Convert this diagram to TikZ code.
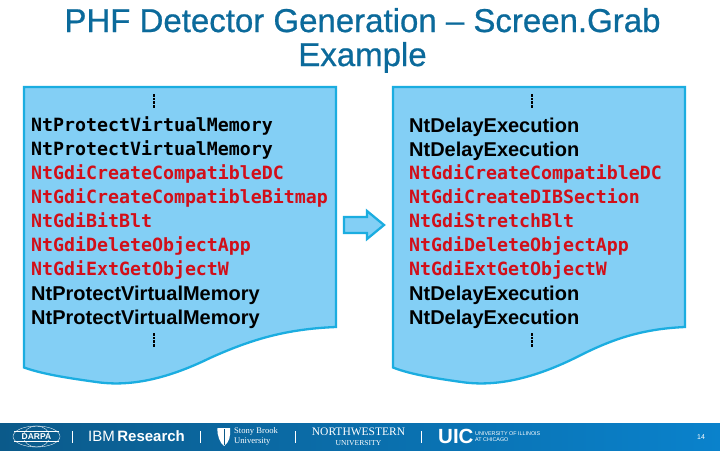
\documentclass[tikz,border=0pt]{standalone}
\usepackage{fontspec}
\setmainfont{Liberation Sans}
\newfontfamily\monob{DejaVu Sans Mono}[BoldFont={DejaVu Sans Mono Bold}]
\newfontfamily\serifl{Liberation Serif}
\newfontfamily\titlef[FakeBold=0.7]{Liberation Sans}
\usetikzlibrary{shapes.arrows,shapes.geometric,positioning}
\definecolor{titleblue}{HTML}{0B6A9B}
\definecolor{docfill}{HTML}{83CFF5}
\definecolor{docedge}{HTML}{1BADE0}
\definecolor{apired}{HTML}{D20F19}
\definecolor{barl}{HTML}{0B5A8A}
\definecolor{barr}{HTML}{0A82CC}
\tikzset{
  docshape/.style={fill=docfill,draw=docedge,line width=2.3pt,line join=miter},
  monoapi/.style={anchor=base west,inner sep=0pt,text=apired,font={\monob\bfseries\fontsize{18.25}{18.25}\selectfont}},
  monoblk/.style={monoapi,text=black},
  sansblk/.style={anchor=base west,inner sep=0pt,text=black,font={\bfseries\fontsize{20}{20}\selectfont}},
  titletext/.style={anchor=base,inner sep=0pt,text=titleblue,font={\titlef\fontsize{33}{33}\selectfont}},
  footw/.style={inner sep=0pt,text=white},
  sepline/.style={draw=white,line width=0.7pt},
  globe/.style={draw=white,line width=0.35pt}
}
\newcommand{\dotsat}[2]{%
  \foreach \k in {0,1,2,3}{\path[fill=black] (#1-1.4,#2+\k*3.7) rectangle ++(2.8,2.7);}}
\begin{document}
\begin{tikzpicture}[x=1pt,y=-1pt]
\useasboundingbox (0,0) rectangle (720,450);
\fill[white] (0,0) rectangle (720,450);
% title
\node[titletext] (t1) at (362.5,32) {PHF Detector Generation – Screen.Grab};
\node[titletext] (t2) at (362.5,66) {Example};
% left doc
\path[docshape] (24,87) -- (336,87) -- (336,327) .. controls (285,329) and (250,340) .. (210,358)
  .. controls (165,380) and (130,386) .. (100,382.5) .. controls (75,379) and (45,375) .. (24,367.5) -- cycle;
% right doc
\path[docshape] (393,87) -- (685,87) -- (685,327) .. controls (640,329) and (610,340) .. (575,358)
  .. controls (530,380) and (495,386) .. (465,382.5) .. controls (440,379) and (412,375) .. (393,367.5) -- cycle;
% arrow
\path[docshape] (344,217) -- (367,217) -- (367,211) -- (384,225) -- (367,239) -- (367,233) -- (344,233) -- cycle;
% texts left
\dotsat{154}{94}
\node[monoblk] (l1) at (31,131.5) {NtProtectVirtualMemory};
\node[monoblk] (l2) at (31,155.5) {NtProtectVirtualMemory};
\node[monoapi] (l3) at (31,179.5) {NtGdiCreateCompatibleDC};
\node[monoapi] (l4) at (31,203.5) {NtGdiCreateCompatibleBitmap};
\node[monoapi] (l5) at (31,227) {NtGdiBitBlt};
\node[monoapi] (l6) at (31,251) {NtGdiDeleteObjectApp};
\node[monoapi] (l7) at (31,275) {NtGdiExtGetObjectW};
\node[sansblk] (l8) at (31,300.5) {NtProtectVirtualMemory};
\node[sansblk] (l9) at (31,324.5) {NtProtectVirtualMemory};
\dotsat{154}{333}
% texts right
\dotsat{532}{94}
\node[sansblk] (r1) at (409,132.5) {NtDelayExecution};
\node[sansblk] (r2) at (409,156.5) {NtDelayExecution};
\node[monoapi] (r3) at (409,179.5) {NtGdiCreateCompatibleDC};
\node[monoapi] (r4) at (409,203.5) {NtGdiCreateDIBSection};
\node[monoapi] (r5) at (409,227) {NtGdiStretchBlt};
\node[monoapi] (r6) at (409,251) {NtGdiDeleteObjectApp};
\node[monoapi] (r7) at (409,275) {NtGdiExtGetObjectW};
\node[sansblk] (r8) at (409,300.5) {NtDelayExecution};
\node[sansblk] (r9) at (409,324.5) {NtDelayExecution};
\dotsat{532}{333}
% footer
\shade[left color=barl,right color=barr] (0,423) rectangle (720,450);
\path[globe] (36.5,436.5) ellipse (23.5 and 10.5);
\path[globe] (36.5,436.5) ellipse (13 and 10.5);
\path[globe] (14,431.5) -- (59,431.5) (14,441.5) -- (59,441.5);
\node[footw,fill=barl,inner sep=0.8pt,font=\bfseries\fontsize{8.5}{8.5}\selectfont] (darpa) at (36.5,436.5) {DARPA};
\path[sepline] (72,431) -- (72,443);
\node[footw,anchor=west,font=\fontsize{15}{15}\selectfont] (ibm) at (88,436.5) {IBM\,\textbf{Research}};
\path[sepline] (200,431) -- (200,443);
\path[fill=white] (217.5,428) -- (230,428) .. controls (231,436) and (229,443) .. (224,446) .. controls (220,443) and (217,436) .. (217.5,428) -- cycle;
\path[draw=barl,line width=0.8pt] (224,429) -- (224,445);
\node[footw,anchor=west,align=left,font=\serifl\fontsize{8.6}{9.5}\selectfont] (sb) at (234,436.5) {Stony Brook\\University};
\path[sepline] (295,431) -- (295,443);
\node[footw,font=\serifl\fontsize{11.5}{12}\selectfont,align=center] (nw) at (358.5,436.5) {NORTHWESTERN\\[-2pt]{\fontsize{7.6}{8}\selectfont UNIVERSITY}};
\path[sepline] (421,431) -- (421,443);
\node[footw,anchor=west,font=\bfseries\fontsize{20.5}{20.5}\selectfont] (uic) at (438,436.5) {UIC};
\node[footw,anchor=west,align=left,font=\fontsize{5.4}{6.5}\selectfont] (uicn) at (475,436.5) {UNIVERSITY OF ILLINOIS\\AT CHICAGO};
\node[footw,font=\fontsize{7}{7}\selectfont] (pg) at (701,437) {14};
\end{tikzpicture}
\end{document}
